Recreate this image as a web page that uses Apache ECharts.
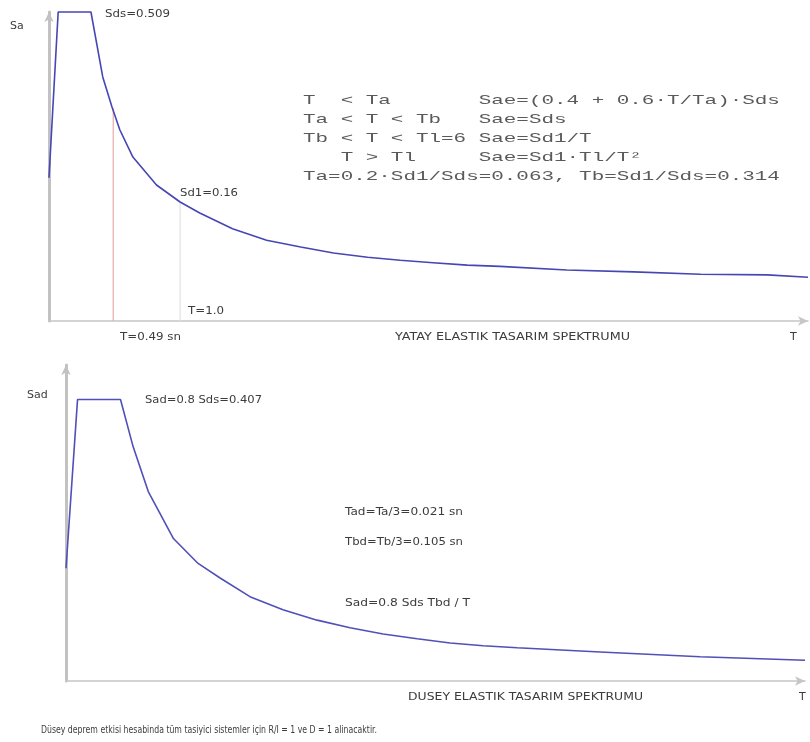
<!DOCTYPE html>
<html>
<head>
<meta charset="utf-8">
<script src="https://cdn.jsdelivr.net/npm/echarts@6/dist/echarts.min.js"></script>
<style>
  html, body { margin: 0; padding: 0; background: #fff; }
  #chart { width: 810px; height: 742px; }
</style>
</head>
<body>
<div id="chart"></div>
<script>
// yatay elastik spektrum (ust grafik)
const yatayT  = [0, 0.07, 0.32, 0.41, 0.48, 0.54, 0.64, 0.82, 1.0, 1.15, 1.4, 1.66, 1.92, 2.17, 2.43, 2.68, 2.93, 3.19, 3.44, 3.95, 4.46, 4.97, 5.48, 5.79];
const yataySa = [0.236, 0.509, 0.509, 0.402, 0.353, 0.315, 0.270, 0.224, 0.196, 0.178, 0.152, 0.133, 0.122, 0.112, 0.105, 0.100, 0.096, 0.092, 0.090, 0.084, 0.081, 0.077, 0.076, 0.072];

// dusey elastik spektrum (alt grafik)
const duseyT   = [0, 0.022, 0.104, 0.128, 0.157, 0.205, 0.252, 0.294, 0.351, 0.414, 0.479, 0.542, 0.605, 0.670, 0.733, 0.796, 0.861, 1.019, 1.210, 1.410];
const duseySad = [0.163, 0.407, 0.407, 0.339, 0.274, 0.206, 0.170, 0.149, 0.122, 0.103, 0.088, 0.077, 0.068, 0.061, 0.055, 0.051, 0.048, 0.042, 0.035, 0.030];

// dikey isaret cizgileri (T=0.49 sn ve T=1.0)
const isaretT     = [0.49, 1.0];
const isaretSa    = [0.35, 0.196];
const isaretRenk  = ['#eaaaaa', '#e2e2e2'];

const formulSatirlari = [
  'T  < Ta       Sae=(0.4 + 0.6·T/Ta)·Sds',
  'Ta < T < Tb   Sae=Sds',
  'Tb < T < Tl=6 Sae=Sd1/T',
  '   T > Tl     Sae=Sd1·Tl/T²',
  'Ta=0.2·Sd1/Sds=0.063, Tb=Sd1/Sds=0.314'
];

const aciklama = 'Düsey deprem etkisi hesabinda tüm tasiyici sistemler için R/I = 1 ve D = 1 alinacaktir.';

const chart = echarts.init(document.getElementById('chart'));

const olcum = document.createElement('canvas').getContext('2d');
function genislik(text, size, family) {
  olcum.font = size + 'px ' + family;
  return olcum.measureText(text).width;
}

const SANS = '"DejaVu Sans", sans-serif';
const MONO = '"Liberation Mono", monospace';

function yazi(text, x, y, o) {
  o = o || {};
  const size = o.size || 11;
  const family = o.family || SANS;
  const el = {
    type: 'text', x: x, y: y, silent: true,
    style: {
      text: text, fontSize: size, fontFamily: family,
      fill: o.fill || '#3c3c3c', align: o.align || 'left', verticalAlign: 'middle'
    }
  };
  if (o.width) el.scaleX = o.width / genislik(text, size, family);
  return el;
}

const grafikler = [
  yazi('Sa', 10, 26),
  yazi('Sds=0.509', 105, 14, { width: 65 }),
  yazi('Sd1=0.16', 180, 193, { width: 58 }),
  yazi('T=1.0', 188, 311, { width: 36 }),
  yazi('T=0.49 sn', 120, 337, { width: 61 }),
  yazi('YATAY ELASTIK TASARIM SPEKTRUMU', 395, 337, { width: 235 }),
  yazi('T', 790, 337),

  yazi('Sad', 27, 395),
  yazi('Sad=0.8 Sds=0.407', 145, 400, { width: 117 }),
  yazi('Tad=Ta/3=0.021 sn', 345, 512, { width: 118 }),
  yazi('Tbd=Tb/3=0.105 sn', 345, 542, { width: 118 }),
  yazi('Sad=0.8 Sds Tbd / T', 345, 603, { width: 125 }),
  yazi('DUSEY ELASTIK TASARIM SPEKTRUMU', 408, 697, { width: 235 }),
  yazi('T', 799, 697),
  yazi(aciklama, 41, 730, { width: 336, size: 11 })
];

formulSatirlari.forEach(function (s, i) {
  grafikler.push(yazi(s, 303, 101 + i * 19, {
    size: 13, family: MONO, fill: '#5a5a5a', width: s.length * 12.55
  }));
});

function eksenX(gridIndex, max) {
  return {
    type: 'value', gridIndex: gridIndex, min: 0, max: max,
    axisLine: { show: true, symbol: ['none', 'arrow'], symbolSize: [7, 10], lineStyle: { color: '#c6c6c6', width: 1.5 } },
    axisTick: { show: false }, axisLabel: { show: false }, splitLine: { show: false }
  };
}
function eksenY(gridIndex, max) {
  return {
    type: 'value', gridIndex: gridIndex, min: 0, max: max,
    axisLine: { show: true, symbol: ['none', 'arrow'], symbolSize: [7, 10], lineStyle: { color: '#c2c2c2', width: 3 } },
    axisTick: { show: false }, axisLabel: { show: false }, splitLine: { show: false }
  };
}

// isaret cizgileri ayri seri olarak
const isaretSerileri = isaretT.map(function (t, i) {
  return {
    type: 'line', xAxisIndex: 0, yAxisIndex: 0,
    data: [[t, 0], [t, isaretSa[i]]],
    showSymbol: false, silent: true, z: 1,
    lineStyle: { color: isaretRenk[i], width: 1.2 }
  };
});

const option = {
  animation: false,
  backgroundColor: '#fff',
  grid: [
    { left: 49, right: 2, top: 12, bottom: 421 },
    { left: 66, right: 5, top: 365, bottom: 61 }
  ],
  xAxis: [eksenX(0, 5.79), eksenX(1, 1.41)],
  yAxis: [eksenY(0, 0.509), eksenY(1, 0.457)],
  series: isaretSerileri.concat([
    {
      type: 'line', xAxisIndex: 0, yAxisIndex: 0,
      data: yatayT.map(function (t, i) { return [t, yataySa[i]]; }),
      showSymbol: false, clip: false, silent: true,
      lineStyle: { color: '#4646b4', width: 1.6 },
      z: 3
    },
    {
      type: 'line', xAxisIndex: 1, yAxisIndex: 1,
      data: duseyT.map(function (t, i) { return [t, duseySad[i]]; }),
      showSymbol: false, clip: false, silent: true,
      lineStyle: { color: '#5050b8', width: 1.6 }
    }
  ]),
  graphic: grafikler
};

chart.setOption(option);
</script>
</body>
</html>
